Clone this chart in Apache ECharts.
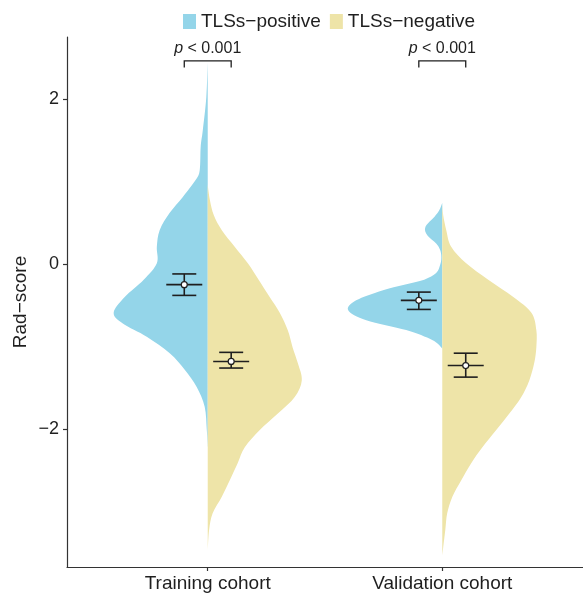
<!DOCTYPE html>
<html>
<head>
<meta charset="utf-8">
<script src="https://cdn.jsdelivr.net/npm/echarts@6/dist/echarts.min.js"></script>
<style>
  html, body { margin: 0; padding: 0; background: #fff; }
  #chart { width: 583px; height: 594px; }
</style>
</head>
<body>
<div id="chart"></div>
<script>
// categories and groups
var cohorts = ['Training cohort', 'Validation cohort'];
var cohortX = [1, 2];
var groups = ['TLSs−positive', 'TLSs−negative'];
var yTicks = [-2, 0, 2];

// violin outlines: [rad-score, half width]
var trainPos = [[2.44, 0], [2.02, 0.006], [1.62, 0.021], [1.42, 0.030], [1.14, 0.034], [1.02, 0.051],
  [0.81, 0.107], [0.62, 0.162], [0.41, 0.205], [0.21, 0.217], [0.01, 0.217], [-0.19, 0.273],
  [-0.40, 0.354], [-0.59, 0.401], [-0.72, 0.362], [-0.88, 0.260], [-1.08, 0.162], [-1.28, 0.098],
  [-1.49, 0.047], [-1.73, 0.013], [-2.01, 0.004], [-2.22, 0]];
var trainNeg = [[0.96, 0], [0.78, 0.009], [0.59, 0.026], [0.41, 0.060], [0.21, 0.115], [0.01, 0.171],
  [-0.19, 0.217], [-0.40, 0.264], [-0.59, 0.307], [-0.80, 0.341], [-1.01, 0.362], [-1.20, 0.384],
  [-1.41, 0.401], [-1.61, 0.371], [-1.81, 0.299], [-2.01, 0.222], [-2.22, 0.158], [-2.41, 0.128],
  [-2.62, 0.094], [-2.82, 0.060], [-3.02, 0.021], [-3.22, 0.006], [-3.47, 0]];
var validPos = [[0.74, 0], [0.65, 0.013], [0.57, 0.034], [0.45, 0.072], [0.35, 0.064], [0.25, 0.026],
  [0.17, 0.009], [0.08, 0.004], [-0.01, 0.009], [-0.11, 0.026], [-0.19, 0.077], [-0.25, 0.162],
  [-0.32, 0.256], [-0.44, 0.367], [-0.56, 0.401], [-0.68, 0.324], [-0.80, 0.154], [-0.92, 0.043],
  [-1.01, 0.004], [-1.04, 0]];
var validNeg = [[0.72, 0], [0.59, 0.004], [0.41, 0.017], [0.21, 0.038], [0.01, 0.102], [-0.19, 0.196],
  [-0.40, 0.303], [-0.59, 0.380], [-0.80, 0.401], [-1.01, 0.401], [-1.20, 0.392], [-1.41, 0.371],
  [-1.61, 0.337], [-1.81, 0.286], [-2.01, 0.230], [-2.22, 0.171], [-2.41, 0.124], [-2.62, 0.081],
  [-2.82, 0.043], [-3.02, 0.021], [-3.22, 0.013], [-3.43, 0.004], [-3.53, 0]];

// mean and error bar ends, per cohort
var posMean = [-0.25, -0.44];
var posLow = [-0.38, -0.55];
var posHigh = [-0.12, -0.34];
var negMean = [-1.18, -1.23];
var negLow = [-1.26, -1.37];
var negHigh = [-1.07, -1.08];

// significance brackets
var pText = ['< 0.001', '< 0.001'];
var bracketTop = 2.46;
var bracketDrop = 2.38;

var dodge = 0.1;
var blue = '#94d5e9';
var yellow = '#eee4a8';
var ink = '#1f1f1f';
var font = '"Liberation Sans", Arial, Helvetica, sans-serif';

// smooth closed outline through pixel points (catmull-rom)
function outlinePath(p) {
  var d = 'M' + p[0][0].toFixed(2) + ',' + p[0][1].toFixed(2);
  for (var i = 0; i < p.length - 1; i++) {
    var p0 = p[Math.max(i - 1, 0)], p1 = p[i], p2 = p[i + 1], p3 = p[Math.min(i + 2, p.length - 1)];
    var c1x = p1[0] + (p2[0] - p0[0]) / 6, c1y = p1[1] + (p2[1] - p0[1]) / 6;
    var c2x = p2[0] - (p3[0] - p1[0]) / 6, c2y = p2[1] - (p3[1] - p1[1]) / 6;
    d += 'C' + c1x.toFixed(2) + ',' + c1y.toFixed(2) + ' ' + c2x.toFixed(2) + ',' + c2y.toFixed(2) +
      ' ' + p2[0].toFixed(2) + ',' + p2[1].toFixed(2);
  }
  return d + 'Z';
}

function violinRender(shapes, side, color) {
  return function (params, api) {
    var cx = api.value(0);
    var shape = shapes[api.value(1)];
    var pts = shape.map(function (s) { return api.coord([cx + side * s[1], s[0]]); });
    return {
      type: 'path',
      shape: { pathData: outlinePath(pts) },
      style: { fill: color, stroke: null }
    };
  };
}

function errorRender(params, api) {
  var c = api.coord([api.value(0), api.value(1)]);
  var lo = api.coord([api.value(0), api.value(2)]);
  var hi = api.coord([api.value(0), api.value(3)]);
  var st = { stroke: ink, lineWidth: 1.6 };
  return {
    type: 'group',
    children: [
      { type: 'line', shape: { x1: c[0], y1: lo[1], x2: c[0], y2: hi[1] }, style: st },
      { type: 'line', shape: { x1: c[0] - 12, y1: lo[1], x2: c[0] + 12, y2: lo[1] }, style: st },
      { type: 'line', shape: { x1: c[0] - 12, y1: hi[1], x2: c[0] + 12, y2: hi[1] }, style: st },
      { type: 'line', shape: { x1: c[0] - 18, y1: c[1], x2: c[0] + 18, y2: c[1] }, style: st },
      { type: 'circle', shape: { cx: c[0], cy: c[1], r: 3 }, style: { fill: '#fff', stroke: ink, lineWidth: 1.2 } }
    ]
  };
}

function bracketRender(params, api) {
  var a = api.coord([api.value(0), api.value(2)]);
  var b = api.coord([api.value(1), api.value(2)]);
  var low = api.coord([api.value(0), api.value(3)]);
  var st = { stroke: ink, lineWidth: 1.3, fill: null };
  return {
    type: 'group',
    children: [
      { type: 'polyline', shape: { points: [[a[0], low[1]], a, b, [b[0], low[1]]] }, style: st },
      {
        type: 'text', x: (a[0] + b[0]) / 2, y: a[1] - 4,
        style: {
          text: '{i|p} ' + pText[params.dataIndex],
          rich: { i: { fontStyle: 'italic', fontSize: 16, fontFamily: font, fill: ink } },
          fontSize: 16, fontFamily: font, fill: ink,
          align: 'center', verticalAlign: 'bottom'
        }
      }
    ]
  };
}

var chart = echarts.init(document.getElementById('chart'));
chart.setOption({
  animation: false,
  textStyle: { fontFamily: font },
  legend: {
    data: groups,
    left: 183,
    top: 12,
    padding: 0,
    icon: 'rect',
    itemWidth: 13,
    itemHeight: 15,
    itemGap: 9,
    textStyle: { fontSize: 19, color: ink, fontFamily: font }
  },
  grid: { left: 67, right: 0, top: 37, bottom: 27, containLabel: false },
  xAxis: {
    type: 'value',
    min: 0.4,
    max: 2.6,
    axisLine: { onZero: false, lineStyle: { color: '#333', width: 1.2 } },
    axisTick: { customValues: cohortX, length: 4, lineStyle: { color: '#333', width: 1.2 } },
    axisLabel: {
      customValues: cohortX,
      margin: 7,
      fontSize: 19,
      color: ink,
      formatter: function (v) { return cohorts[cohortX.indexOf(v)]; }
    },
    splitLine: { show: false }
  },
  yAxis: {
    type: 'value',
    min: -3.67,
    max: 2.75,
    name: 'Rad−score',
    nameLocation: 'middle',
    nameGap: 37,
    nameMoveOverlap: false,
    nameTextStyle: { fontSize: 19, color: ink },
    axisLine: { show: true, onZero: false, lineStyle: { color: '#333', width: 1.2 } },
    axisTick: { show: true, customValues: yTicks, length: 4, lineStyle: { color: '#333', width: 1.2 } },
    axisLabel: {
      customValues: yTicks,
      margin: 8,
      fontSize: 18,
      color: ink,
      formatter: function (v) { return String(v).replace('-', '−'); }
    },
    splitLine: { show: false }
  },
  series: [
    {
      name: groups[0],
      type: 'custom',
      itemStyle: { color: blue },
      renderItem: violinRender([trainPos, validPos], -1, blue),
      data: [[cohortX[0], 0], [cohortX[1], 1]],
      z: 1
    },
    {
      name: groups[1],
      type: 'custom',
      itemStyle: { color: yellow },
      renderItem: violinRender([trainNeg, validNeg], 1, yellow),
      data: [[cohortX[0], 0], [cohortX[1], 1]],
      z: 1
    },
    {
      name: 'pos-err',
      type: 'custom',
      renderItem: errorRender,
      data: cohortX.map(function (x, i) { return [x - dodge, posMean[i], posLow[i], posHigh[i]]; }),
      z: 3
    },
    {
      name: 'neg-err',
      type: 'custom',
      renderItem: errorRender,
      data: cohortX.map(function (x, i) { return [x + dodge, negMean[i], negLow[i], negHigh[i]]; }),
      z: 3
    },
    {
      name: 'brackets',
      type: 'custom',
      renderItem: bracketRender,
      data: cohortX.map(function (x) { return [x - dodge, x + dodge, bracketTop, bracketDrop]; }),
      z: 3
    }
  ]
});
</script>
</body>
</html>
